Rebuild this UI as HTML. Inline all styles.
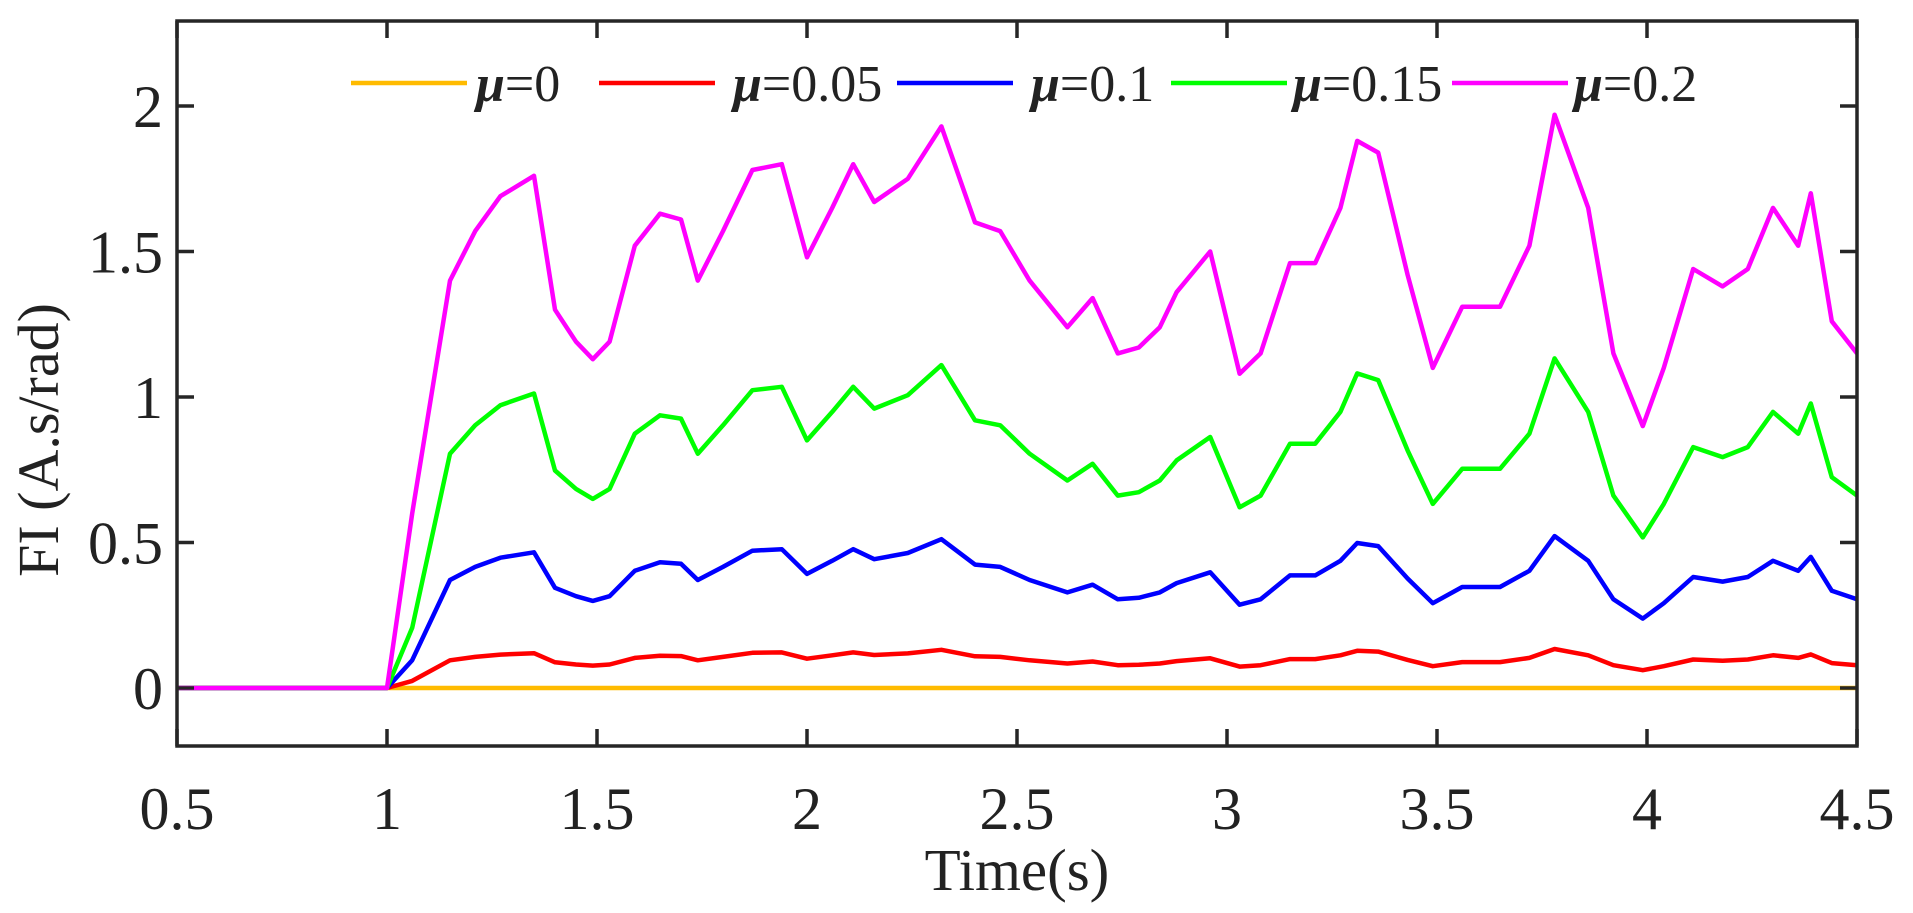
<!DOCTYPE html>
<html><head><meta charset="utf-8"><style>
html,body{margin:0;padding:0;background:#fff;}
svg{display:block;}
text{font-family:"Liberation Serif",serif;fill:#222;}
</style></head><body>
<svg id="s" width="1913" height="913" xmlns="http://www.w3.org/2000/svg">
<g id="data"></g>
<rect x="177" y="21" width="1680" height="725" fill="none" stroke="#262626" stroke-width="3.5"/>
<g id="ticks" stroke="#262626" stroke-width="3.5"></g>
<g font-size="60" text-anchor="end" id="yl"></g>
<g font-size="60" text-anchor="middle" id="xl"></g>
<text x="1017" y="890" font-size="59" text-anchor="middle">Time(s)</text>
<text transform="translate(58,440) rotate(-90)" font-size="58" text-anchor="middle">FI (A.s/rad)</text>
<g id="leg" font-size="52"></g>
</svg>
<script>
var X=function(t){return 177+(t-0.5)*420;},Y=function(v){return 688-v*291;};
var ns="http://www.w3.org/2000/svg";
function el(p,n,a,txt){var e=document.createElementNS(ns,n);for(var k in a)e.setAttribute(k,a[k]);if(txt!==undefined)e.textContent=txt;document.getElementById(p).appendChild(e);return e;}
for(var t=0.5;t<=4.501;t+=0.5){var x=X(t);el("ticks","line",{x1:x,y1:746,x2:x,y2:729});el("ticks","line",{x1:x,y1:21,x2:x,y2:38});
el("xl","text",{x:x,y:829},(Math.round(t*10)/10).toString());}
for(var v=0;v<=2.001;v+=0.5){var y=Y(v);el("ticks","line",{x1:177,y1:y,x2:194,y2:y});el("ticks","line",{x1:1857,y1:y,x2:1840,y2:y});
el("yl","text",{x:163,y:y+21},(Math.round(v*10)/10).toString());}
var P=[[0.5,0],[1.0,0],[1.06,0.6],[1.15,1.4],[1.21,1.57],[1.27,1.69],[1.35,1.76],[1.4,1.3],[1.45,1.19],[1.49,1.13],[1.53,1.19],[1.59,1.52],[1.65,1.63],[1.7,1.61],[1.74,1.4],[1.8,1.57],[1.87,1.78],[1.94,1.8],[2.0,1.48],[2.06,1.65],[2.11,1.8],[2.16,1.67],[2.24,1.75],[2.32,1.93],[2.4,1.6],[2.46,1.57],[2.53,1.4],[2.62,1.24],[2.68,1.34],[2.74,1.15],[2.79,1.17],[2.84,1.24],[2.88,1.36],[2.96,1.5],[3.03,1.08],[3.08,1.15],[3.15,1.46],[3.21,1.46],[3.27,1.65],[3.31,1.88],[3.36,1.84],[3.43,1.42],[3.49,1.1],[3.56,1.31],[3.65,1.31],[3.72,1.52],[3.78,1.97],[3.86,1.65],[3.92,1.15],[3.99,0.9],[4.04,1.1],[4.11,1.44],[4.18,1.38],[4.24,1.44],[4.3,1.65],[4.36,1.52],[4.39,1.7],[4.44,1.26],[4.5,1.15]];
function path(sc){var d="";for(var i=0;i<P.length;i++){var v=P[i][1]*sc;if(P[i][0]==1.06&&sc<1)v=P[i][1]*sc*0.6;d+=(d?"L":"M")+X(P[i][0]).toFixed(1)+","+Y(v).toFixed(1);}return d;}
var S=[["#ffbb00",0],["#ff0000",0.068],["#0000ff",0.265],["#00ff00",0.575],["#ff00ff",1]];
S.forEach(function(s){el("data","path",{d:path(s[1]),fill:"none",stroke:s[0],"stroke-width":4.5,"stroke-linejoin":"round"});});
var L=["0","0.05","0.1","0.15","0.2"];
var LX=[[351,467,476],[599,715,733],[897,1013,1031],[1171,1287,1293],[1452,1568,1574]];
S.forEach(function(s,i){var l=LX[i];el("leg","line",{x1:l[0],y1:83,x2:l[1],y2:83,stroke:s[0],"stroke-width":4.5});
var tx=el("leg","text",{x:l[2],y:101});var m=document.createElementNS(ns,"tspan");m.setAttribute("font-weight","bold");m.setAttribute("font-style","italic");m.textContent="\u03bc";tx.appendChild(m);
var r=document.createElementNS(ns,"tspan");r.textContent="="+L[i];tx.appendChild(r);});
</script>
</body></html>
